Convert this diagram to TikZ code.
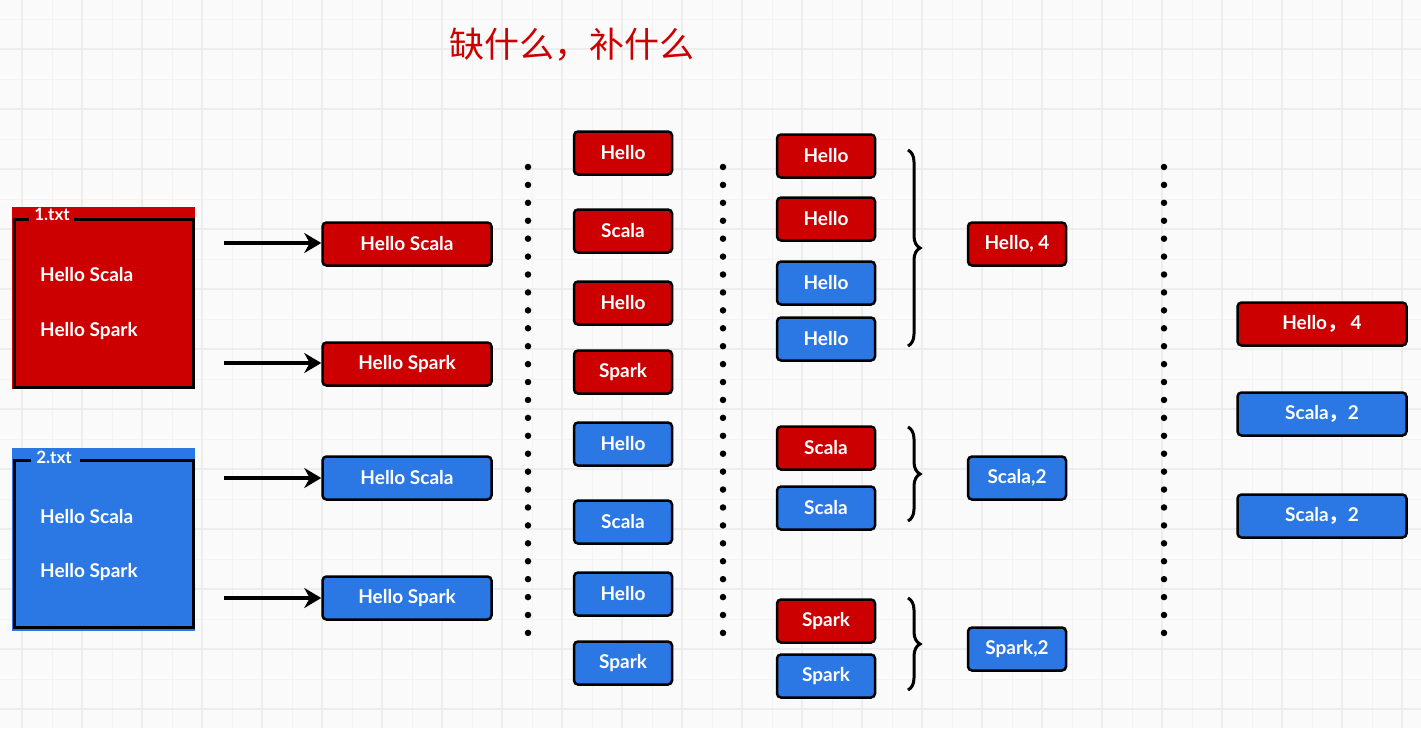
\documentclass[tikz,border=0pt]{standalone}
\usepackage{fontspec}
\setmainfont{Lato}
\newfontfamily\cjk{Noto Sans CJK SC}
\usepackage{xcolor}
\usetikzlibrary{positioning,calc,arrows.meta,decorations.pathreplacing}
\definecolor{wred}{HTML}{CC0000}
\definecolor{wblue}{HTML}{2B78E4}
\definecolor{paper}{HTML}{FAFAFA}
\definecolor{gridminor}{HTML}{F3F3F3}
\definecolor{gridmajor}{HTML}{EDEDED}

\begin{document}
\begin{tikzpicture}[x=1pt,y=-1pt,
    word/.style={draw=black, line width=2.5pt, rounded corners=4pt, text=white,
      minimum height=43pt, inner sep=0pt, font=\bfseries\fontsize{19}{21}\selectfont},
    wide/.style={minimum width=169pt},
    narrow/.style={minimum width=98pt},
    plain/.style={text=white, inner sep=0pt, font=\bfseries\fontsize{19}{21}\selectfont},
    feed/.style={line width=4.5pt, -{Stealth[length=17pt,width=20pt]}},
    dotmark/.style={circle, fill=black, inner sep=0pt, minimum size=6.5pt},
    curly/.style={decorate, decoration={brace, amplitude=12pt}, line width=3pt}]
    \useasboundingbox (0,0) rectangle (1421,728);
    % paper and grid
    \fill[paper] (0,0) rectangle (1421,728);
    \foreach \x in {52,112,...,1420} \draw[gridminor, line width=1pt] (\x,0) -- (\x,728);
    \foreach \y in {19,79,...,727} \draw[gridminor, line width=1pt] (0,\y) -- (1421,\y);
    \foreach \x in {22,82,...,1420} \draw[gridmajor, line width=1.6pt] (\x,0) -- (\x,728);
    \foreach \y in {49,109,...,727} \draw[gridmajor, line width=1.6pt] (0,\y) -- (1421,\y);

    \node[text=wred, font=\cjk\fontsize{35}{40}\selectfont] (title) at (572,45) {缺什么，补什么};

    % input files
    \node[fill=wred, minimum width=183pt, minimum height=182pt, inner sep=0pt] (f1) at (103.5,298) {};
    \draw[line width=3pt] (29,219) -| (14,387) -| (193,219) -- (74,219);
    \node[plain, font=\bfseries\fontsize{17}{19}\selectfont] (f1name) at (52,214) {1.txt};
    \node[plain, anchor=west] (f1a) at (40,275) {Hello Scala};
    \node[plain, anchor=west] (f1b) at (40,331) {Hello Spark};

    \node[fill=wblue, minimum width=183pt, minimum height=183pt, inner sep=0pt] (f2) at (103.5,539.5) {};
    \draw[line width=3pt] (31,460) -| (14,627) -| (193,460) -- (80,460);
    \node[plain, font=\bfseries\fontsize{17}{19}\selectfont] (f2name) at (54,457) {2.txt};
    \node[plain, anchor=west] (f2a) at (40,517) {Hello Scala};
    \node[plain, anchor=west] (f2b) at (40,572) {Hello Spark};

    % lines
    \foreach \n/\y/\c/\w in {1/244/wred/Hello Scala, 2/364/wred/Hello Spark,
                             3/478/wblue/Hello Scala, 4/598/wblue/Hello Spark}
        \node[word, wide, fill=\c] (m\n) at (407,\y) {\w};
    \foreach \n/\y in {1/243, 2/363, 3/478, 4/598} {
        \coordinate (s\n) at (224,\y);
        \draw[feed] (s\n) -- (s\n -| m\n.west);
    }

    % dotted separators
    \foreach \i in {0,...,26} {
        \node[dotmark] (da\i) at (528,{167+17.92*\i}) {};
        \node[dotmark] (db\i) at (723,{167+17.92*\i}) {};
        \node[dotmark] (dc\i) at (1164,{167+17.92*\i}) {};
    }

    % words
    \foreach \n/\y/\c/\w in {1/153/wred/Hello, 2/231/wred/Scala, 3/303/wred/Hello, 4/372/wred/Spark,
                             5/444/wblue/Hello, 6/522/wblue/Scala, 7/594/wblue/Hello, 8/663/wblue/Spark}
        \node[word, narrow, fill=\c] (w\n) at (623,\y) {\w};

    % grouped
    \foreach \n/\y/\c/\w in {1/156/wred/Hello, 2/219/wred/Hello, 3/283/wblue/Hello, 4/339/wblue/Hello,
                             5/448/wred/Scala, 6/508/wblue/Scala, 7/621/wred/Spark, 8/676/wblue/Spark}
        \node[word, narrow, fill=\c] (g\n) at (826,\y) {\w};
    \draw[curly] (908,150) -- (908,346);
    \draw[curly] (908,427) -- (908,521);
    \draw[curly] (908,598) -- (908,690);

    % counts
    \node[word, narrow, fill=wred] (c1) at (1017,244) {Hello, 4};
    \node[word, narrow, fill=wblue] (c2) at (1017,478) {Scala,2};
    \node[word, narrow, fill=wblue] (c3) at (1017,649) {Spark,2};

    % result
    \node[word, wide, fill=wred] (r1) at (1322,324) {Hello{\cjk ，} 4};
    \node[word, wide, fill=wblue] (r2) at (1322,414) {Scala{\cjk ，}2};
    \node[word, wide, fill=wblue] (r3) at (1322,516) {Scala{\cjk ，}2};
\end{tikzpicture}
\end{document}
